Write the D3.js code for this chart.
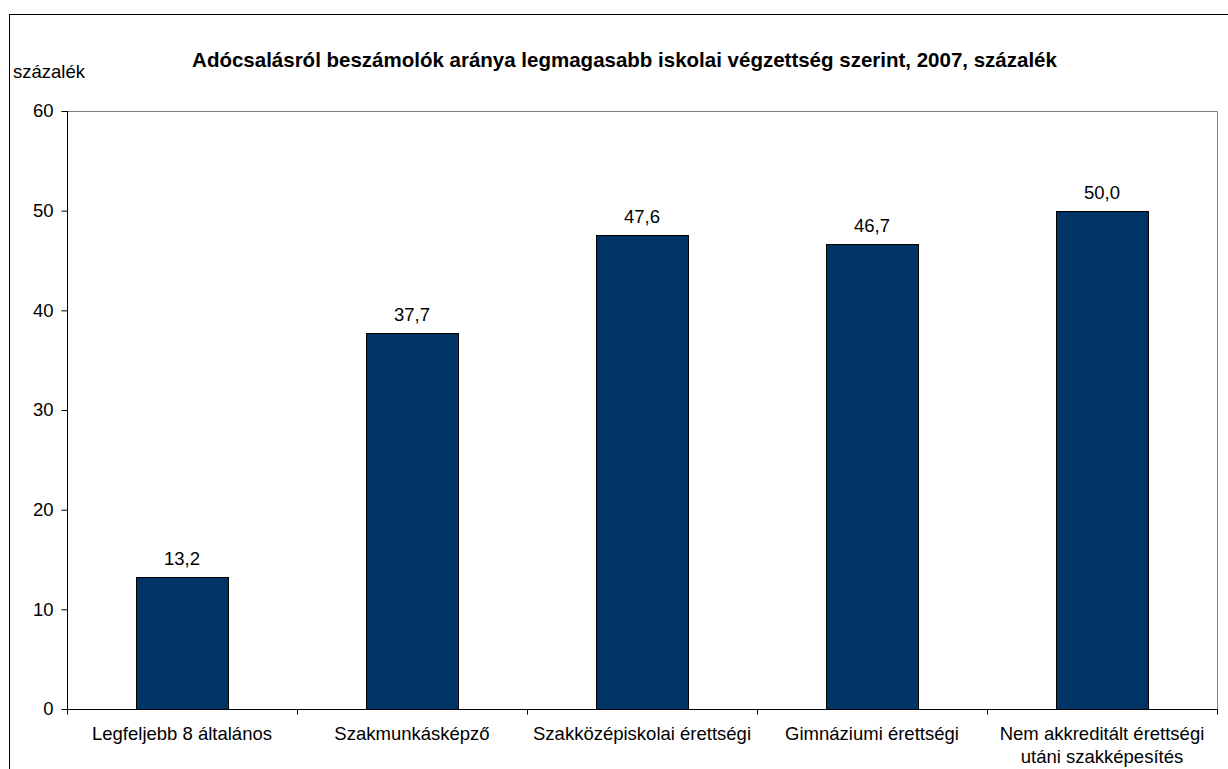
<!DOCTYPE html>
<html>
<head>
<meta charset="utf-8">
<script src="https://cdn.jsdelivr.net/npm/d3@7"></script>
<style>
  html, body { margin: 0; padding: 0; background: #ffffff; }
  svg { display: block; }
  text { font-family: "Liberation Sans", Arial, sans-serif; fill: #000; }
</style>
</head>
<body>
<svg id="chart" width="1228" height="769"></svg>
<script>
const title = "Adócsalásról beszámolók aránya legmagasabb iskolai végzettség szerint, 2007, százalék";
const yAxisTitle = "százalék";
const categories = [
  ["Legfeljebb 8 általános"],
  ["Szakmunkásképző"],
  ["Szakközépiskolai érettségi"],
  ["Gimnáziumi érettségi"],
  ["Nem akkreditált érettségi", "utáni szakképesítés"]
];
const values = [13.2, 37.7, 47.6, 46.7, 50.0];
const yTicks = [0, 10, 20, 30, 40, 50, 60];

(function () {
const svg = d3.select("#chart");
const pLeft = 67, pRight = 1217, pTop = 111, pBottom = 709;

// outer border
svg.append("rect")
  .attr("x", 9.5).attr("y", 14.5)
  .attr("width", 1240).attr("height", 800)
  .attr("fill", "none").attr("stroke", "#000").attr("stroke-width", 1);

const x = d3.scaleBand()
  .domain(d3.range(categories.length))
  .range([pLeft, pRight])
  .paddingInner(0).paddingOuter(0);

const y = d3.scaleLinear().domain([0, 60]).range([pBottom, pTop]);

// plot area border (top & right gray)
svg.append("path")
  .attr("d", `M${pLeft},${pTop + 0.5}H${pRight + 0.5}V${pBottom}`)
  .attr("fill", "none").attr("stroke", "#808080").attr("stroke-width", 1);

// bars
const bw = x.bandwidth() * 0.4;
svg.selectAll("rect.bar").data(values).enter().append("rect")
  .attr("class", "bar")
  .attr("x", (d, i) => Math.round(x(i) + x.bandwidth() / 2 - bw / 2) + 0.5)
  .attr("y", d => Math.round(y(d)) + 0.5)
  .attr("width", Math.round(bw))
  .attr("height", d => pBottom - Math.round(y(d)))
  .attr("fill", "#003366")
  .attr("stroke", "#000").attr("stroke-width", 1);

// value labels
svg.selectAll("text.val").data(values).enter().append("text")
  .attr("class", "val")
  .attr("x", (d, i) => x(i) + x.bandwidth() / 2)
  .attr("y", d => y(d) - 12)
  .attr("text-anchor", "middle")
  .attr("font-size", "18.5px")
  .text(d => d.toFixed(1).replace(".", ","));

// y axis
const yAxis = d3.axisLeft(y).tickValues(yTicks).tickSize(6).tickPadding(8)
  .tickFormat(d3.format("d"));
const gy = svg.append("g").attr("transform", `translate(${pLeft + 0.5},0)`).call(yAxis);
gy.select(".domain").attr("d", `M0,${pTop}V${pBottom + 5}`).attr("stroke", "#000");
gy.selectAll(".tick line").attr("stroke", "#000");
gy.selectAll(".tick text").attr("font-size", "18.5px")
  .attr("font-family", "Liberation Sans, Arial, sans-serif").attr("fill", "#000");

// x axis
const gx = svg.append("g").attr("transform", `translate(0,${pBottom + 0.5})`);
gx.append("line").attr("x1", pLeft).attr("x2", pRight + 1).attr("y1", 0).attr("y2", 0)
  .attr("stroke", "#000");
const boundaries = d3.range(categories.length + 1).map(i => i < categories.length ? x(i) : x(i - 1) + x.bandwidth());
gx.selectAll("line.tk").data(boundaries).enter().append("line")
  .attr("class", "tk")
  .attr("x1", d => Math.round(d) + 0.5).attr("x2", d => Math.round(d) + 0.5)
  .attr("y1", 0).attr("y2", 5)
  .attr("stroke", "#000");

const cl = svg.selectAll("text.cat").data(categories).enter().append("text")
  .attr("class", "cat")
  .attr("text-anchor", "middle")
  .attr("font-size", "18.5px");
cl.each(function(lines, i) {
  const t = d3.select(this);
  lines.forEach((ln, j) => {
    t.append("tspan")
      .attr("x", x(i) + x.bandwidth() / 2)
      .attr("y", 740 + j * 22.5)
      .text(ln);
  });
});

// titles
svg.append("text")
  .attr("x", 624.5).attr("y", 67)
  .attr("text-anchor", "middle")
  .attr("font-size", "20.5px").attr("font-weight", "bold")
  .text(title);

svg.append("text")
  .attr("x", 13).attr("y", 78)
  .attr("font-size", "18.5px")
  .text(yAxisTitle);
})();
</script>
</body>
</html>
